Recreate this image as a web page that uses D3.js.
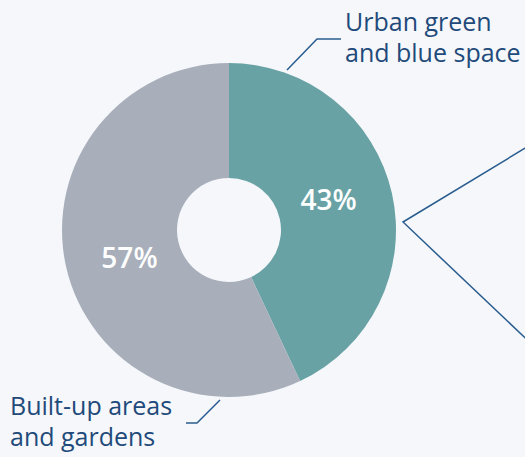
<!DOCTYPE html>
<html lang="en">
<head>
  <meta charset="UTF-8">
  <script src="https://cdnjs.cloudflare.com/ajax/libs/d3/7.8.5/d3.min.js"></script>
  <style>
    body { margin: 0; background: #f5f7fa; }
    svg { display: block; font-family: "Open Sans", sans-serif; }
  </style>
  <title>Urban space</title>
</head>
<body>
  <script>
    const categories = ["Urban green and blue space", "Built-up areas and gardens"];
    const values = [43, 57];
    const colors = ["#68a2a5", "#a8afbb"];
    const labelLines = [["Urban green", "and blue space"], ["Built-up areas", "and gardens"]];

    const w = 525;
    const h = 457;
    const cx = 229, cy = 230;
    const outerR = 167, innerR = 52;

    const svg = d3.select("body")
      .append("svg")
      .attr("width", w)
      .attr("height", h);

    const pie = d3.pie().sort(null).value(d => d);
    const arcs = pie(values);
    const arc = d3.arc().innerRadius(innerR).outerRadius(outerR);
    const labelArc = d3.arc().innerRadius(102).outerRadius(102);

    const g = svg.append("g").attr("transform", "translate(" + cx + "," + cy + ")");

    g.selectAll("path")
      .data(arcs)
      .enter()
      .append("path")
      .attr("d", arc)
      .attr("fill", (d, i) => colors[i]);

    const nudge = [-8, 6];
    g.selectAll("text.pct")
      .data(arcs)
      .enter()
      .append("text")
      .attr("class", "pct")
      .attr("x", d => labelArc.centroid(d)[0])
      .attr("y", (d, i) => labelArc.centroid(d)[1] + nudge[i])
      .attr("dy", "0.35em")
      .attr("text-anchor", "middle")
      .attr("fill", "#ffffff")
      .attr("font-size", 28)
      .attr("font-weight", 600)
      .text(d => d.data + "%");

    // leader lines
    const lineColor = "#2a5d8f";
    const leaders = [
      [[287, 70], [317, 39], [341, 39]],
      [[186, 423], [197, 423], [220, 400]],
      [[560, 127], [403, 222], [560, 371]]
    ];
    svg.selectAll("path.leader")
      .data(leaders)
      .enter()
      .append("path")
      .attr("class", "leader")
      .attr("d", d3.line())
      .attr("fill", "none")
      .attr("stroke", lineColor)
      .attr("stroke-width", 1.5);

    const labelPos = [[345, 31], [10, 415]];
    labelLines.forEach((lines, i) => {
      const t = svg.append("text")
        .attr("x", labelPos[i][0])
        .attr("y", labelPos[i][1])
        .attr("fill", "#1f4a7a")
        .attr("font-size", 25);
      lines.forEach((s, j) => {
        t.append("tspan")
          .attr("x", labelPos[i][0])
          .attr("dy", j === 0 ? 0 : 31)
          .text(s);
      });
    });
  </script>
</body>
</html>
